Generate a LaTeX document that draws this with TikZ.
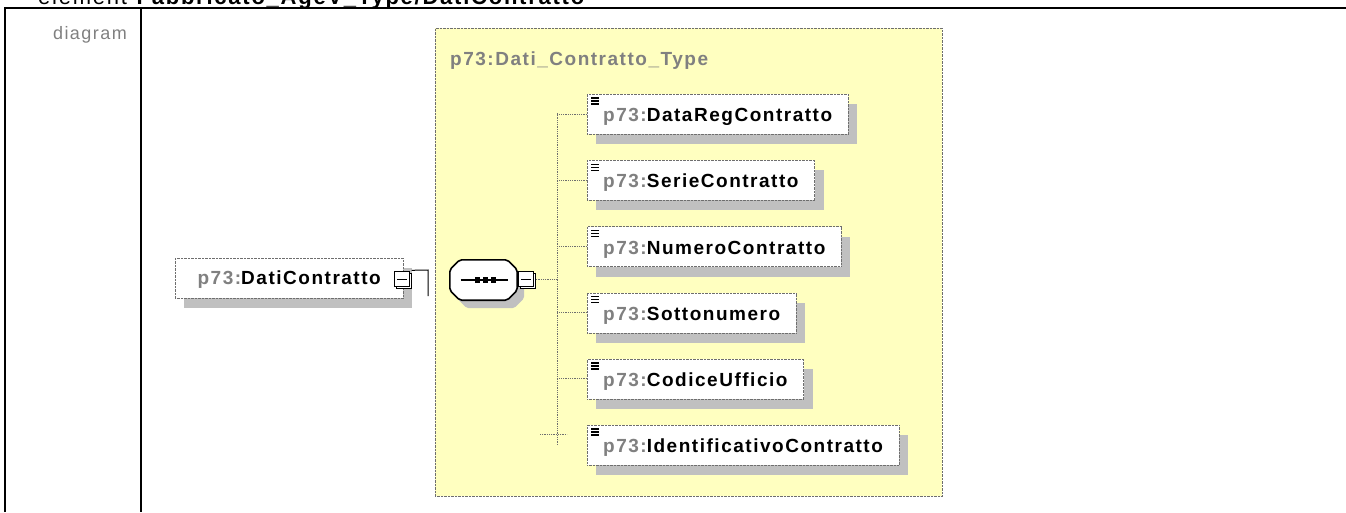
\documentclass[tikz,border=0pt]{standalone}
\usepackage{fontspec}
\setmainfont{Liberation Sans}
\newfontfamily\xsfont[LetterSpace=8]{Liberation Sans}
\usetikzlibrary{positioning, shadows, calc}
\definecolor{typefill}{HTML}{FFFFC0}
\definecolor{shade}{HTML}{C0C0C0}
\definecolor{pfxgray}{HTML}{808080}
\definecolor{rim}{HTML}{6E6E6E}
\newcommand{\pfx}{\textcolor{pfxgray}{p73:}}
\tikzset{
  frame/.style    ={draw=black, line width=1.6pt},
  headtxt/.style  ={font=\xsfont\fontsize{22}{24}\selectfont, inner sep=0pt},
  lbl/.style      ={font=\xsfont\fontsize{18}{20}\selectfont, text=pfxgray, inner sep=0pt},
  typebox/.style  ={draw=rim, densely dotted, fill=typefill, inner sep=0pt},
  typetitle/.style={font=\xsfont\fontsize{19}{21}\selectfont\bfseries, text=pfxgray, inner sep=0pt},
  elem/.style     ={draw=rim, densely dotted, fill=white, minimum height=40pt,
                    inner xsep=16pt, inner ysep=0pt,
                    font=\xsfont\fontsize{19}{21}\selectfont\bfseries,
                    drop shadow={shadow xshift=9pt, shadow yshift=-10pt,
                                 fill=shade, draw=none, opacity=1}},
  child/.style    ={elem, text height=17pt, text depth=2pt},
  pmbox/.style    ={draw=black, solid, fill=white, minimum size=15pt, inner sep=0pt,
                    drop shadow={shadow xshift=2pt, shadow yshift=-2pt,
                                 fill=white, draw=black, opacity=1}},
  seqline/.style  ={draw=black, line width=1.6pt, rounded corners=2pt, fill=white,
                    drop shadow={shadow xshift=7pt, shadow yshift=-8pt,
                                 fill=shade, draw=none, opacity=1}},
  conn/.style     ={draw=rim, densely dotted, line width=0.8pt}
}
\begin{document}
\begin{tikzpicture}[x=1pt, y=-1pt]
  \useasboundingbox (0,0) rectangle (1346,512);

  % table frame
  \draw[frame] (5,512) -- (5,8) -- (1346,8);
  \draw[frame] (141,8) -- (141,512);
  \node[headtxt, anchor=base west] (head) at (38,4)
    {element \textbf{Fabbricato\_AgeV\_Type/DatiContratto}};
  \node[lbl, anchor=base east] (diag) at (127,39) {diagram};

  % complex type
  \node[typebox, anchor=north west, minimum width=507pt, minimum height=468pt] (tp) at (435,28) {};
  \node[typetitle, anchor=base west] (tptitle) at (450,65) {p73:Dati\_Contratto\_Type};

  % element
  \node[elem, anchor=north west, minimum width=228pt, text height=13pt, text depth=0pt]
    (dc) at (175,258) {\pfx DatiContratto};
  \node[pmbox] (pm1) at (402,279) {};
  \draw[line width=0.8pt] ([xshift=3pt]pm1.west) -- ([xshift=-3pt]pm1.east);
  \coordinate (ecorner) at (428,270);
  \coordinate (eend) at (428,296);
  \draw[line width=1pt] (pm1.north east) ++(2,-1) -- (ecorner) -- (eend);

  % sequence compositor
  \node[minimum width=67pt, minimum height=40pt, inner sep=0pt] (seq) at (483.5,280) {};
  \draw[seqline] ([xshift=10pt]seq.north west) -- ([xshift=-10pt]seq.north east)
    -- ([yshift=-10pt]seq.north east) -- ([yshift=10pt]seq.south east)
    -- ([xshift=-10pt]seq.south east) -- ([xshift=10pt]seq.south west)
    -- ([yshift=10pt]seq.south west) -- ([yshift=-10pt]seq.north west) -- cycle;
  \draw[line width=1.2pt] ([xshift=-23pt]seq.center) -- ([xshift=24pt]seq.center);
  \foreach \dx in {-6,2,10}
    \fill ([xshift=\dx pt]seq.center) ++(-2.6,-2.6) rectangle ++(5.2,5.2);
  \node[pmbox] (pm2) at (526,279) {};
  \draw[line width=0.8pt] ([xshift=3pt]pm2.west) -- ([xshift=-3pt]pm2.east);

  % children
  \coordinate (sptop) at (557,113);
  \coordinate (spbot) at (557,445);
  \draw[conn] (sptop) -- (spbot);
  \draw[conn] ([xshift=2pt]pm2.east) -- (pm2.east -| sptop);
  \foreach \nm [count=\i] in {DataRegContratto,SerieContratto,NumeroContratto,
                             Sottonumero,CodiceUfficio,IdentificativoContratto} {
    \node[child, anchor=north west] (c\i) at (587,{94+66.2*(\i-1)}) {\pfx\nm};
    \foreach \k in {4,7,10}
      \draw[line width=1.4pt] ([shift={(4pt,-\k pt)}]c\i.north west) -- ++(8,0);
  }
  \foreach \i in {1,...,5}
    \draw[conn] ([yshift=-20pt]c\i.north west) -- ++(-30,0);
  \draw[conn] ([shift={(-47pt,-9pt)}]c6.north west) -- ++(27,0);
\end{tikzpicture}
\end{document}
